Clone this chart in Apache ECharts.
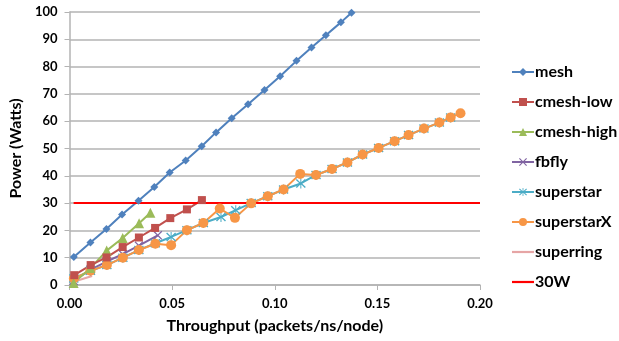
<!DOCTYPE html>
<html>
<head>
<meta charset="utf-8">
<script src="https://cdn.jsdelivr.net/npm/echarts@6/dist/echarts.min.js"></script>
<style>
  html, body { margin: 0; padding: 0; background: #fff; }
  #chart { width: 619px; height: 341px; }
</style>
</head>
<body>
<div id="chart"></div>
<script>
// values: [throughput, watts]
const meshData = [
  [0.0021, 10.3], [0.0102, 15.6], [0.0180, 20.5], [0.0256, 25.8], [0.0336, 30.9],
  [0.0413, 35.9], [0.0488, 41.2], [0.0566, 45.6], [0.0644, 50.8], [0.0714, 55.9],
  [0.0790, 61.1], [0.0870, 66.2], [0.0950, 71.4], [0.1026, 76.5], [0.1106, 82.1],
  [0.1179, 87.0], [0.1249, 91.5], [0.1322, 96.2], [0.1374, 99.7]
];
const cmeshLowData = [
  [0.0023, 3.6], [0.0103, 7.3], [0.0180, 10.1], [0.0259, 13.9], [0.0338, 17.4],
  [0.0417, 20.9], [0.0491, 24.5], [0.0572, 27.7], [0.0645, 31.1]
];
const cmeshHighData = [
  [0.0020, 0.7], [0.0102, 6.2], [0.0181, 12.6], [0.0259, 17.2], [0.0339, 22.6], [0.0394, 26.5]
];
const fbflyData = [
  [0.0020, 1.5], [0.0102, 5.6], [0.0181, 8.6], [0.0259, 11.3], [0.0338, 14.4], [0.0430, 18.2]
];
const superstarData = [
  [0.0021, 2.4], [0.0102, 5.2], [0.0182, 7.3], [0.0260, 10.0], [0.0338, 12.8],
  [0.0418, 15.3], [0.0495, 17.6], [0.0572, 20.1], [0.0652, 22.7], [0.0738, 24.9],
  [0.0810, 27.4], [0.0885, 30.0], [0.0966, 32.5], [0.1043, 35.0], [0.1127, 37.2],
  [0.1201, 40.3], [0.1279, 42.5], [0.1354, 44.9], [0.1428, 47.8], [0.1506, 50.2],
  [0.1584, 52.7], [0.1652, 54.9], [0.1727, 57.3], [0.1802, 59.5], [0.1857, 61.4]
];
const superstarXData = [
  [0.0021, 2.4], [0.0102, 5.2], [0.0182, 7.3], [0.0260, 10.0], [0.0338, 12.8],
  [0.0418, 15.1], [0.0495, 14.6], [0.0572, 20.1], [0.0652, 22.7], [0.0732, 28.0],
  [0.0806, 24.6], [0.0885, 29.9], [0.0966, 32.5], [0.1043, 35.0], [0.1124, 40.7],
  [0.1201, 40.3], [0.1279, 42.5], [0.1354, 44.9], [0.1428, 47.8], [0.1506, 50.2],
  [0.1584, 52.7], [0.1652, 54.9], [0.1727, 57.3], [0.1802, 59.5], [0.1857, 61.4],
  [0.1905, 62.9]
];
const superringData = [[0.0020, 1.2], [0.0110, 3.3]];
const limitData = [[0.0020, 30], [0.2000, 30]];

const xTicks = { min: 0, max: 0.2, interval: 0.05 };
const yTicks = { min: 0, max: 100, interval: 10 };

const font = 'Lato, "Open Sans", sans-serif';
const crossPath = 'path://M0,1L1,0L5,4L9,0L10,1L6,5L10,9L9,10L5,6L1,10L0,9L4,5Z';
const starPath = 'path://M0,1.5L1,0.5L4.5,4L4.5,0L5.5,0L5.5,4L9,0.5L10,1.5L6.2,5L10,8.5L9,9.5L5.5,6L5.5,10L4.5,10L4.5,6L1,9.5L0,8.5L3.8,5Z';
const barPath = 'path://M0,0L22,0L22,2.2L0,2.2Z';

function line(name, data, color, symbol, size) {
  return {
    name: name,
    type: 'line',
    data: data,
    symbol: symbol || 'none',
    symbolSize: size || 0,
    showSymbol: !!symbol,
    lineStyle: { color: color, width: 2 },
    itemStyle: { color: color },
    animation: false
  };
}

const chart = echarts.init(document.getElementById('chart'));
chart.setOption({
  backgroundColor: '#fff',
  grid: { left: 68, right: 139, top: 12, bottom: 56 },
  legend: {
    orient: 'vertical',
    left: 506,
    top: 58,
    itemGap: 12,
    itemWidth: 22,
    itemHeight: 10,
    textStyle: { fontFamily: font, fontWeight: 'bold', fontSize: 16, color: '#000', lineHeight: 18, padding: [0, 0, 0, -4] },
    data: ['mesh', 'cmesh-low', 'cmesh-high', 'fbfly', 'superstar', 'superstarX',
      { name: 'superring', icon: barPath, itemStyle: { color: '#e6a5a5' } },
      { name: '30W', icon: barPath, itemStyle: { color: '#ff0000' } }]
  },
  xAxis: {
    type: 'value',
    min: xTicks.min, max: xTicks.max, interval: xTicks.interval,
    name: 'Throughput (packets/ns/node)',
    nameLocation: 'middle',
    nameGap: 33,
    nameTextStyle: { fontFamily: font, fontWeight: 'bold', fontSize: 16, color: '#000' },
    axisLine: { lineStyle: { color: '#b3b3b3', width: 1.5 } },
    axisTick: { show: true, length: 5, lineStyle: { color: '#b3b3b3' } },
    axisLabel: { fontFamily: font, fontWeight: 'bold', fontSize: 13, color: '#000', margin: 12,
      formatter: v => v.toFixed(2) },
    splitLine: { show: false }
  },
  yAxis: {
    type: 'value',
    min: yTicks.min, max: yTicks.max, interval: yTicks.interval,
    name: 'Power (Watts)',
    nameLocation: 'middle',
    nameGap: 38,
    nameRotate: 90,
    nameTextStyle: { fontFamily: font, fontWeight: 'bold', fontSize: 16, color: '#000' },
    axisLine: { show: true, lineStyle: { color: '#b3b3b3', width: 1.5 } },
    axisTick: { show: true, length: 5, lineStyle: { color: '#b3b3b3' } },
    axisLabel: { fontFamily: font, fontWeight: 'bold', fontSize: 13, color: '#000', margin: 12 },
    splitLine: { lineStyle: { color: '#b3b3b3', width: 1.5 } }
  },
  series: [
    line('superring', superringData, '#e6a5a5'),
    line('fbfly', fbflyData, '#8064a2', crossPath, 9),
    line('superstar', superstarData, '#4bacc6', starPath, 10),
    line('superstarX', superstarXData, '#f79646', 'circle', 10),
    line('cmesh-high', cmeshHighData, '#9bbb59', 'triangle', 10),
    line('cmesh-low', cmeshLowData, '#c0504d', 'rect', 8),
    line('mesh', meshData, '#4f81bd', 'diamond', 8),
    line('30W', limitData, '#ff0000')
  ]
});
</script>
</body>
</html>
